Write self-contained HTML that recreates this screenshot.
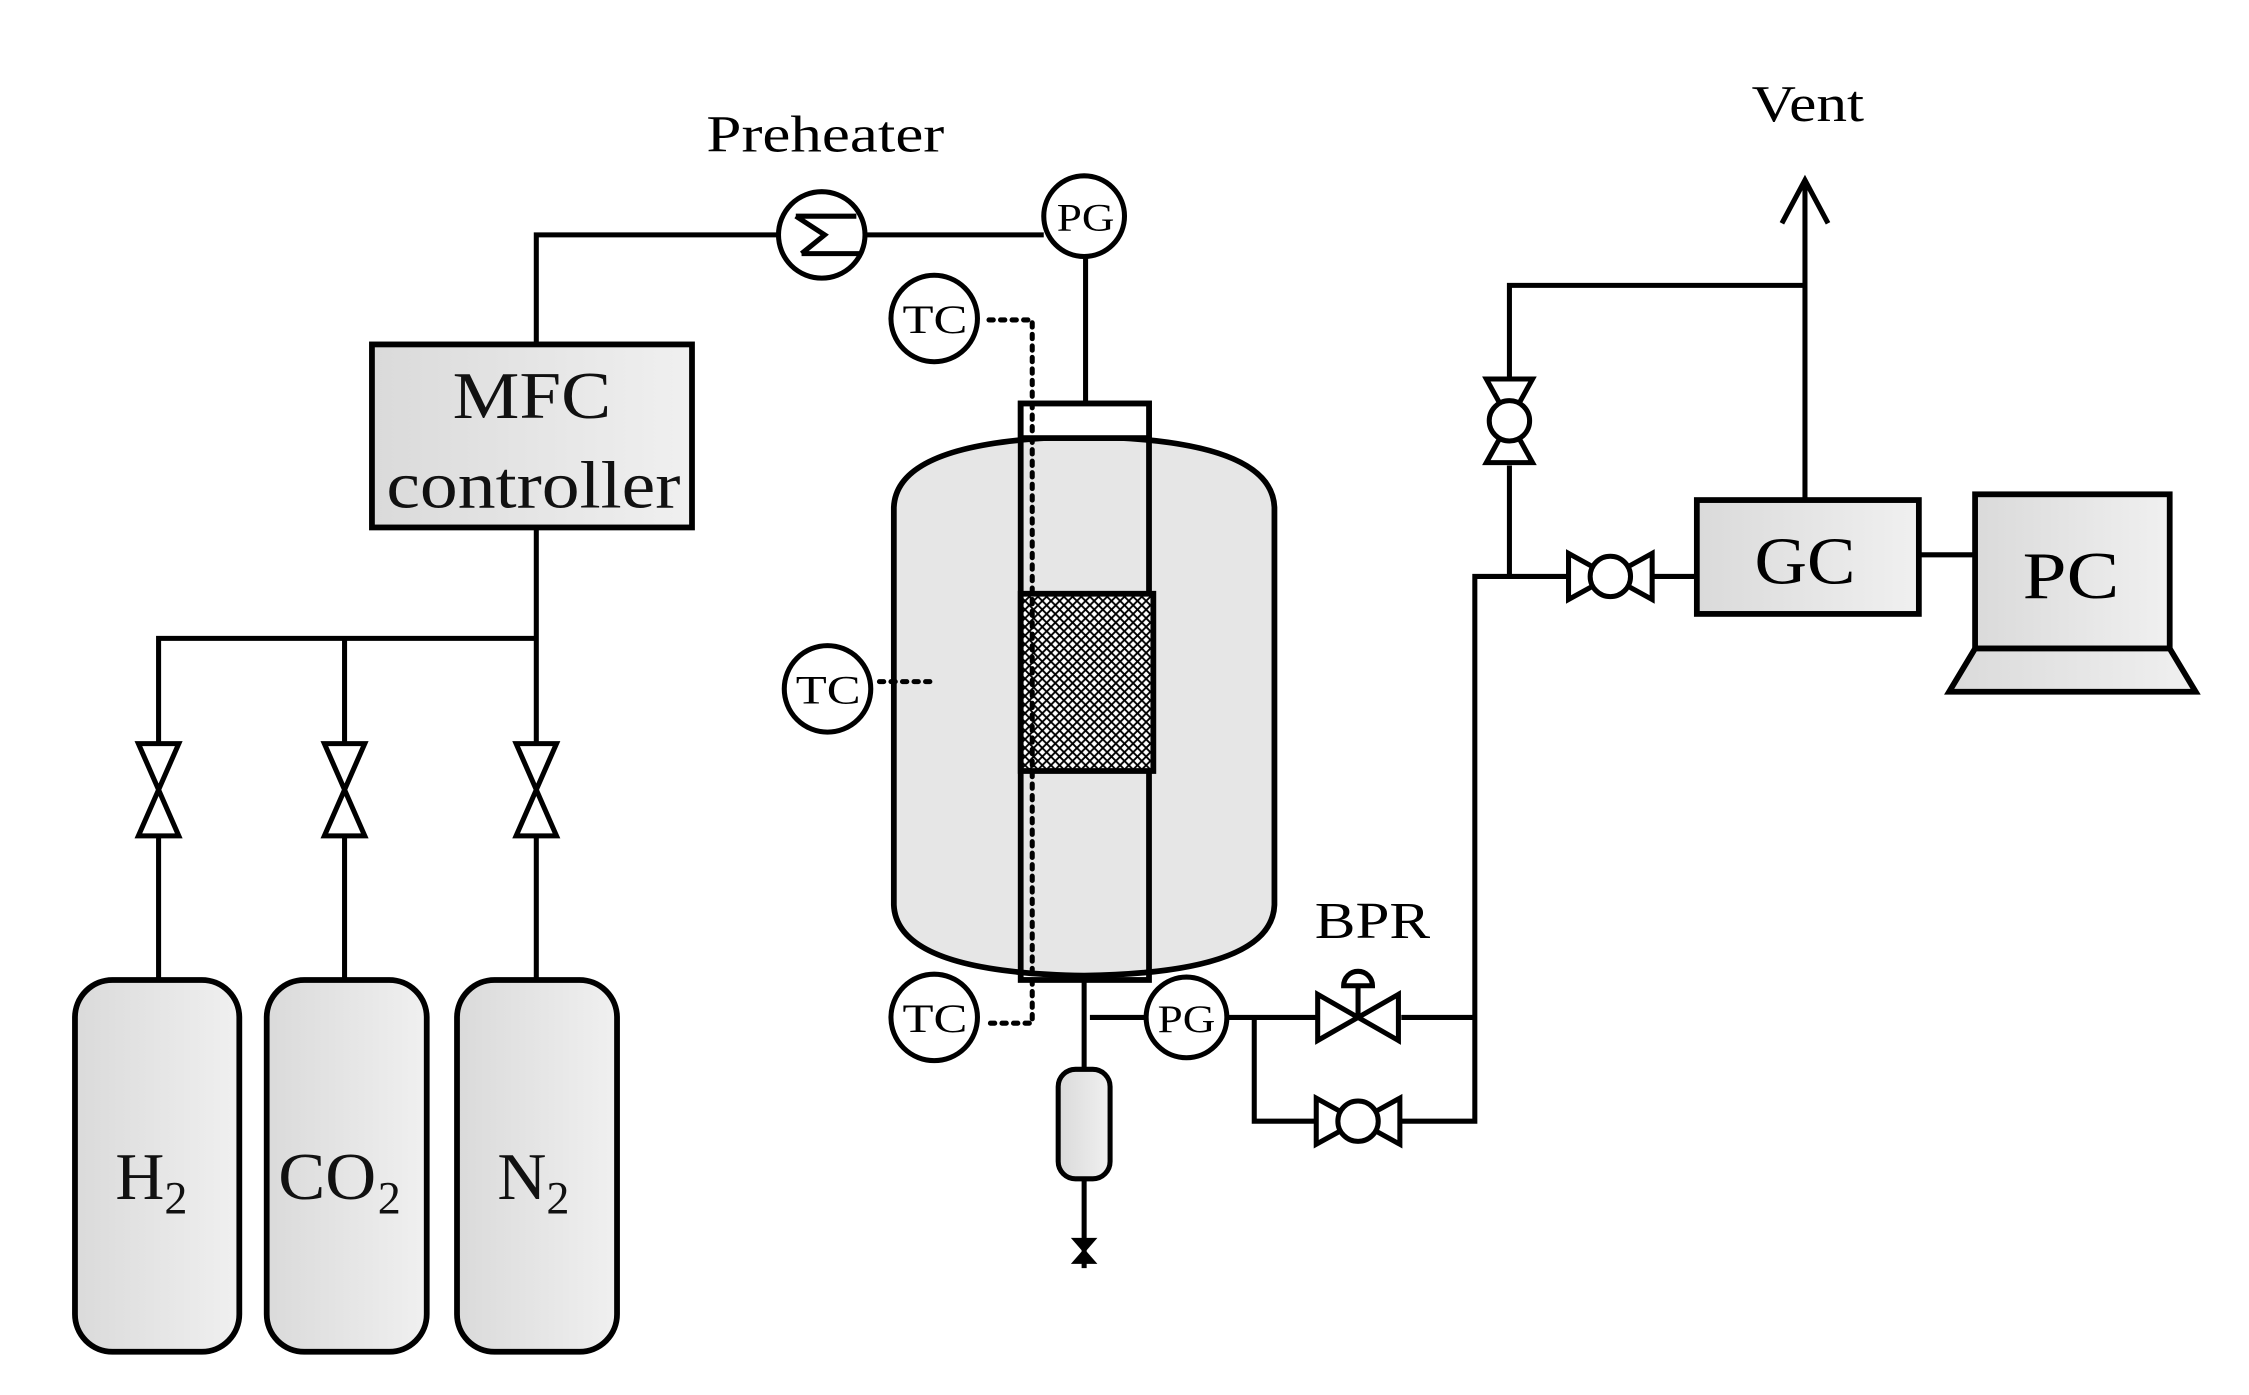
<!DOCTYPE html>
<html><head><style>html,body{margin:0;padding:0;background:#fff}svg{display:block}</style></head>
<body>
<svg width="2249" height="1395" viewBox="0 0 1560 968" preserveAspectRatio="none" xmlns="http://www.w3.org/2000/svg" font-family="'Liberation Serif', serif">
<defs>
<linearGradient id="g" x1="0" x2="1" y1="0" y2="0"><stop offset="0" stop-color="#dadada"/><stop offset="1" stop-color="#f0f0f0"/></linearGradient>
<pattern id="hatch" width="6" height="6" patternUnits="userSpaceOnUse">
<rect width="6" height="6" fill="#fff"/>
<path d="M0,0 L6,6 M6,0 L0,6" stroke="#000" stroke-width="1.3"/>
<circle cx="3" cy="3" r="1" fill="#000"/>
</pattern>
<g id="bv">
<path d="M-29,-16 L-29,16 L0,0 Z M29,-16 L29,16 L0,0 Z" fill="#fff" stroke="#000" stroke-width="3.5"/>
<circle r="14" fill="#fff" stroke="#000" stroke-width="3.5"/>
</g>
<g id="gv">
<path d="M-14,-32 L14,-32 L0,0 Z M-14,32 L14,32 L0,0 Z" fill="#fff" stroke="#000" stroke-width="3.5"/>
</g>
</defs>
<g fill="none" stroke="#000" stroke-width="3.5">
<path d="M110,680 V443 H372 M239,680 V443 M372,680 V366 M372,239 V163 H540 M600,163 H724 M753,178 V280"/>
</g>
<use href="#gv" x="110" y="548"/><use href="#gv" x="239" y="548"/><use href="#gv" x="372" y="548"/>
<g fill="url(#g)" stroke="#000" stroke-width="4">
<rect x="52" y="680" width="114" height="258" rx="26"/>
<rect x="185" y="680" width="111" height="258" rx="26"/>
<rect x="317" y="680" width="111" height="258" rx="26"/>
<rect x="258" y="239" width="222" height="127"/>
</g>
<g font-size="46" fill="#111">
<text x="80" y="832" textLength="34" lengthAdjust="spacingAndGlyphs">H</text><text x="114" y="842" font-size="32">2</text>
<text x="193" y="832" textLength="68" lengthAdjust="spacingAndGlyphs">CO</text><text x="262" y="842" font-size="32">2</text>
<text x="345" y="832" textLength="34" lengthAdjust="spacingAndGlyphs">N</text><text x="379" y="842" font-size="32">2</text>
<text x="314" y="290" textLength="110" lengthAdjust="spacingAndGlyphs">MFC</text>
<text x="268" y="352" textLength="204" lengthAdjust="spacingAndGlyphs">controller</text>
</g>
<circle cx="570" cy="163" r="30" fill="#fff" stroke="#000" stroke-width="3.5"/>
<path d="M552,150 H594 M552,150 L572,163 L556,176 M556,176 H596" fill="none" stroke="#000" stroke-width="3.5"/>
<text x="490" y="105" font-size="36" textLength="165" lengthAdjust="spacingAndGlyphs">Preheater</text>
<circle cx="752" cy="150" r="28" fill="#fff" stroke="#000" stroke-width="3.5"/>
<text x="733" y="160" font-size="27" textLength="40" lengthAdjust="spacingAndGlyphs">PG</text>
<path d="M620,352 Q622,305 752,303 Q882,305 884,352 V628 Q882,675 752,677 Q622,675 620,628 Z" fill="#e6e6e6" stroke="#000" stroke-width="4"/>
<rect x="708" y="280" width="89" height="400" fill="none" stroke="#000" stroke-width="4"/>
<rect x="708" y="280" width="89" height="24" fill="#fff" stroke="#000" stroke-width="4"/>
<rect x="708" y="412" width="92" height="123" fill="url(#hatch)" stroke="#000" stroke-width="4"/>
<g fill="none" stroke="#000" stroke-width="3.5" stroke-dasharray="3,5" stroke-linecap="round">
<path d="M686,222 H716 V710 H686"/>
<path d="M610,473 H648"/>
</g>
<g fill="#fff" stroke="#000" stroke-width="3.5">
<circle cx="648" cy="221" r="30"/><circle cx="574" cy="478" r="30"/><circle cx="648" cy="706" r="30"/>
</g>
<g font-size="28">
<text x="626" y="231" textLength="45" lengthAdjust="spacingAndGlyphs">TC</text>
<text x="552" y="488" textLength="45" lengthAdjust="spacingAndGlyphs">TC</text>
<text x="626" y="716" textLength="45" lengthAdjust="spacingAndGlyphs">TC</text>
</g>
<g fill="none" stroke="#000" stroke-width="3.5">
<path d="M752,680 V745 M752,818 V880 M756,706 H795 M851,706 H913 M972,706 H1023 M870,706 V778 H913 M972,778 H1023 V400 H1087 M1147,400 H1177 M1047,400 V323 M1047,262 V198 H1252 M1252,347 V125 M1236,155 L1252,125 L1268,155 M1331,385 H1370"/>
</g>
<rect x="734" y="742" width="36" height="76" rx="12" fill="url(#g)" stroke="#000" stroke-width="3.5"/>
<path d="M745,860 H759 L752,868 Z M745,876 H759 L752,868 Z" fill="#000" stroke="#000" stroke-width="2"/>
<circle cx="823" cy="706" r="28" fill="#fff" stroke="#000" stroke-width="3.5"/>
<text x="803" y="716" font-size="27" textLength="40" lengthAdjust="spacingAndGlyphs">PG</text>
<path d="M914,690 L914,722 L942,706 Z M970,690 L970,722 L942,706 Z" fill="#fff" stroke="#000" stroke-width="3.5"/>
<path d="M942,706 V684 M932,684 H952 A10,10 0 0 0 932,684 Z" fill="#fff" stroke="#000" stroke-width="3.5"/>
<text x="912" y="651" font-size="36" textLength="80" lengthAdjust="spacingAndGlyphs">BPR</text>
<use href="#bv" x="942" y="778"/>
<use href="#bv" x="1117" y="400"/>
<g transform="translate(1047,292) rotate(90)"><use href="#bv"/></g>
<rect x="1177" y="347" width="154" height="79" fill="url(#g)" stroke="#000" stroke-width="4"/>
<text x="1217" y="405" font-size="46" textLength="70" lengthAdjust="spacingAndGlyphs">GC</text>
<rect x="1370" y="343" width="135" height="107" fill="url(#g)" stroke="#000" stroke-width="4"/>
<path d="M1370,450 H1505 L1523,480 H1352 Z" fill="url(#g)" stroke="#000" stroke-width="4"/>
<text x="1403" y="415" font-size="46" textLength="67" lengthAdjust="spacingAndGlyphs">PC</text>
<text x="1215" y="84" font-size="36" textLength="78" lengthAdjust="spacingAndGlyphs">Vent</text>
</svg>
</body></html>
